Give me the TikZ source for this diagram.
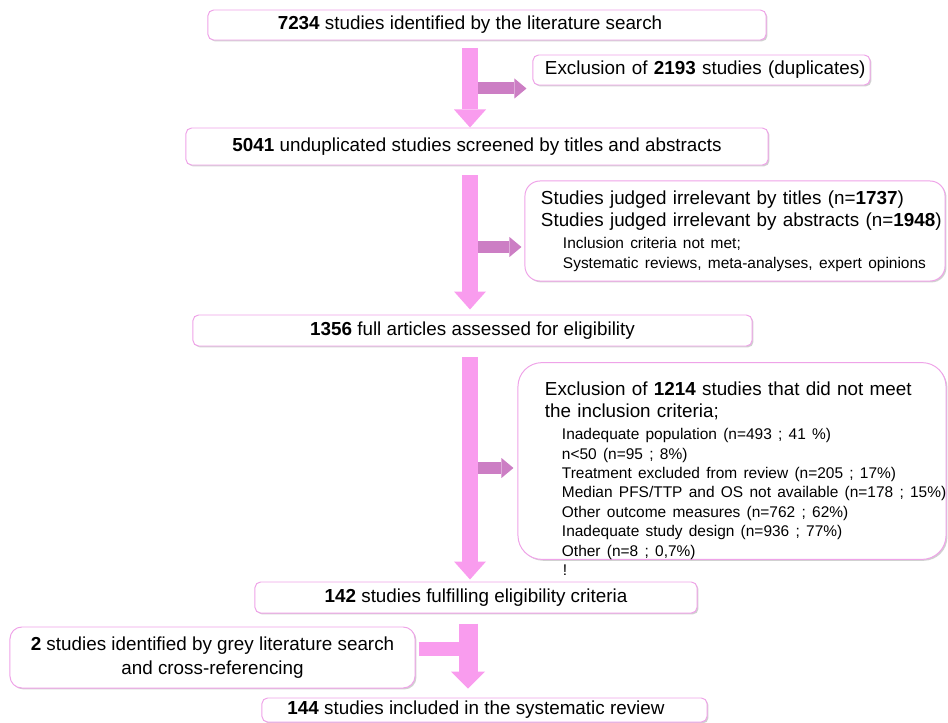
\documentclass[tikz,border=0pt]{standalone}
\usepackage{fontspec}
\setmainfont{Liberation Sans}
\usetikzlibrary{arrows.meta,calc,shadows}

\definecolor{flowpink}{HTML}{F99CEE}
\definecolor{sidepink}{HTML}{CC7EC4}
\definecolor{edgepink}{HTML}{EFA3E8}

\newcommand{\bigtxt}{\fontsize{13.4}{15.6}\selectfont}
\newcommand{\smalltxt}{\fontsize{11}{13.8}\selectfont}

\begin{document}
\begin{tikzpicture}[
    x=0.025cm, y=-0.025cm,
    box/.style={rectangle, draw=edgepink, fill=white, line width=0.7pt, rounded corners=4pt, align=center, inner sep=0pt, font=\bigtxt,
        drop shadow={shadow xshift=1pt, shadow yshift=-1pt, opacity=0.3, fill=black!60}},
    exbox/.style={box, align=left, inner xsep=0.1cm},
    arrow/.style={draw=flowpink, line width=0.4cm, -{Triangle[length=0.45cm, width=0.8cm, line width=0pt]}},
    sidearrow/.style={draw=sidepink, line width=0.3cm, -{Triangle[length=0.3cm, width=0.5cm, line width=0pt]}},
    feed/.style={draw=flowpink, line width=0.35cm}
]
    \useasboundingbox (0,0) rectangle (948,723);
    \coordinate (col) at (470,0);
    \coordinate (col2) at (468,0);

    % main column
    \node [box, minimum width=13.95cm, minimum height=0.75cm] (n1) at (487,25) {\textbf{7234} studies identified by the literature search\hspace{0.85cm}};
    \node [box, minimum width=14.55cm, minimum height=0.925cm] (n2) at (477,146.5) {\textbf{5041} unduplicated studies screened by titles and abstracts};
    \node [box, minimum width=13.975cm, minimum height=0.775cm] (n3) at (472.5,330.5) {\textbf{1356} full articles assessed for eligibility};
    \node [box, minimum width=11.05cm, minimum height=0.775cm] (n4) at (476,597.5) {\textbf{142} studies fulfilling eligibility criteria};
    \node [box, minimum width=11.125cm, minimum height=0.6cm] (n5) at (484.5,710) {\textbf{144} studies included in the systematic review\hspace{0.425cm}};
    \node [box, rounded corners=0.3cm, minimum width=10.125cm, minimum height=1.525cm, font=\fontsize{13.4}{17}\selectfont] (n6) at (212.5,657.5) {\textbf{2} studies identified by grey literature search\\ and cross-referencing};

    % exclusion boxes
    \node [exbox, text width=8.225cm, minimum height=0.75cm] (ex1) at (701.5,70) {\leftskip=0.2cm \mbox{Exclusion of \textbf{2193} studies (duplicates)}\par};
    \node [exbox, rounded corners=0.375cm, text width=10.3cm, minimum height=2.5cm] (ex2) at (735,231) {%
        \leftskip=0.3cm \mbox{Studies judged irrelevant by titles (n=\textbf{1737})}\\
        \mbox{Studies judged irrelevant by abstracts (n=\textbf{1948})}\par\vspace{0.075cm}
        \smalltxt\leftskip=0.85cm Inclusion criteria not met;\\
        \mbox{Systematic reviews, meta-analyses, expert opinions}\par};
    \node [exbox, rounded corners=0.6cm, text width=10.5cm, minimum height=4.8cm] (ex3) at (732,461) {%
        \leftskip=0.575cm \rule{0pt}{0.82cm}\mbox{Exclusion of \textbf{1214} studies that did not meet}\\
        the inclusion criteria;\par\vspace{0.075cm}
        \smalltxt\leftskip=1cm Inadequate population (n=493 ; 41 \%)\\
        n<50 (n=95 ; 8\%)\\
        Treatment excluded from review (n=205 ; 17\%)\\
        \mbox{Median PFS/TTP and OS not available (n=178 ; 15\%)}\\
        Other outcome measures (n=762 ; 62\%)\\
        Inadequate study design (n=936 ; 77\%)\\
        Other (n=8 ; 0,7\%)\par};
    \node [font=\smalltxt, inner sep=0pt, anchor=base] (bang) at (565,575) {!};

    % arrows
    \draw [sidearrow] ($(col |- ex1.south)+(8,3)$) -- ($(ex1.south west)+(-6,3)$);
    \draw [arrow] ($(n1.south -| col)+(0,8)$) -- (n2.north -| col);
    \draw [sidearrow] ($(col |- ex2.west)+(8,16)$) -- ($(ex2.west)+(-3,16)$);
    \draw [arrow] ($(n2.south -| col)+(0,10)$) -- ($(n3.north -| col)+(0,-5)$);
    \draw [sidearrow] ($(col |- ex3.west)+(8,7)$) -- ($(ex3.west)+(-4,7)$);
    \draw [arrow] ($(n3.south -| col)+(0,11)$) -- ($(n4.north -| col)+(0,-2)$);
    \draw [feed] ($(n6.east)+(3,-8.5)$) -- ($(col2 |- n6.east)+(0,-8.5)$);
    \draw [arrow, line width=0.475cm, -{Triangle[length=0.425cm, width=0.85cm, line width=0pt]}] ($(n4.south -| col2)+(0,10)$) -- ($(n5.north -| col2)+(0,-9)$);
\end{tikzpicture}
\end{document}
